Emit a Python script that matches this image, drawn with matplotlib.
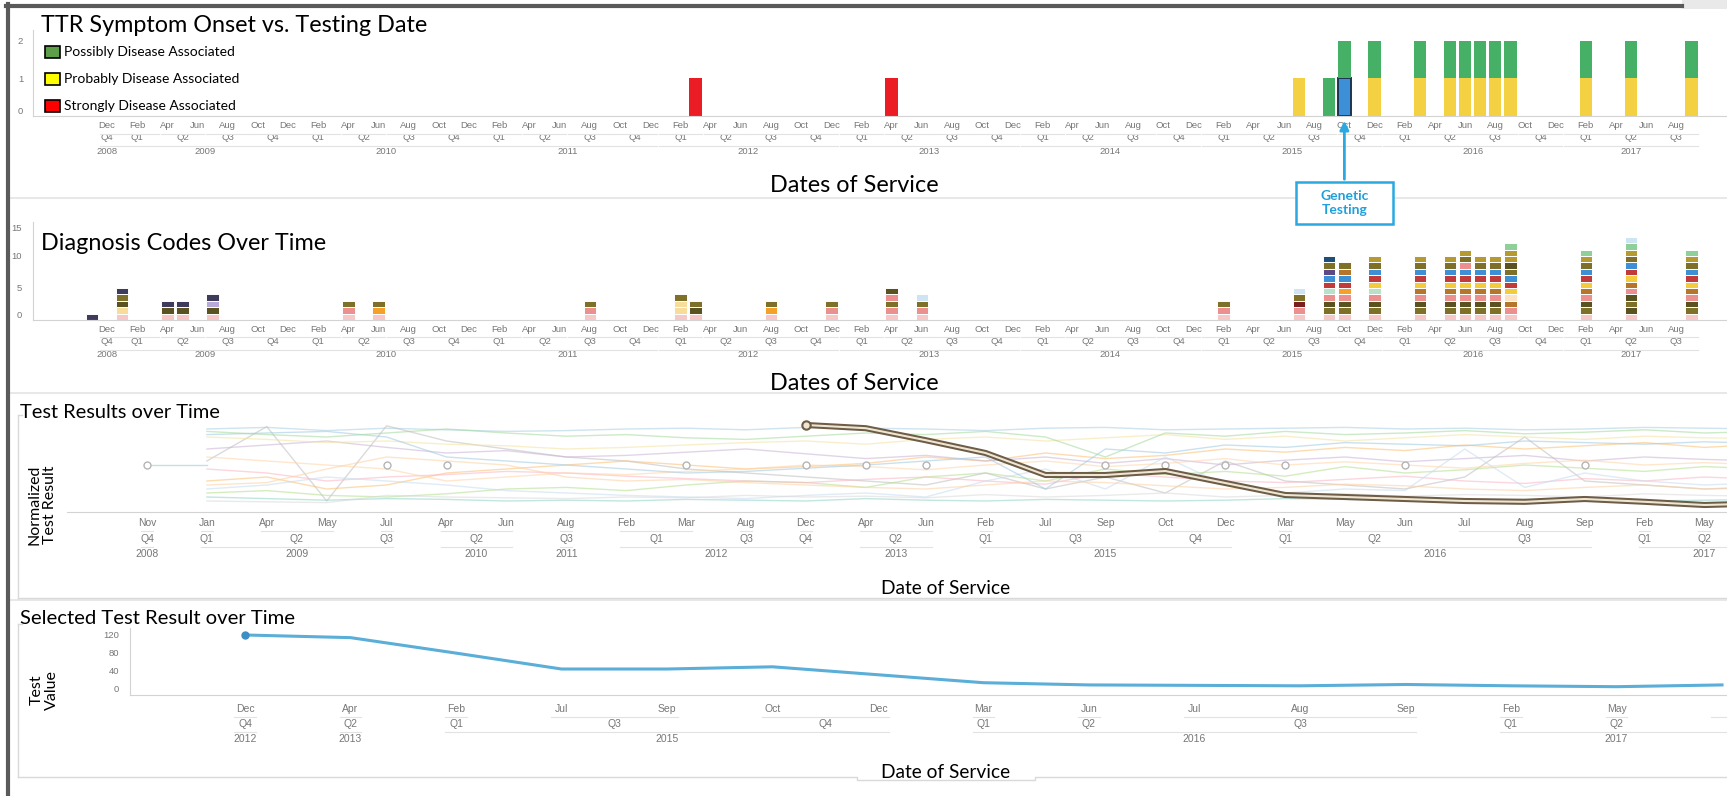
import matplotlib
matplotlib.use("Agg")
import matplotlib.pyplot as plt
import matplotlib.transforms as mtrans
from matplotlib.lines import Line2D
from matplotlib.patches import Rectangle, FancyArrowPatch

plt.rcParams['font.family'] = ['Lato', 'DejaVu Sans']

W, H = 1727, 796
MONTHS = ['Jan', 'Feb', 'Mar', 'Apr', 'May', 'Jun',
          'Jul', 'Aug', 'Sep', 'Oct', 'Nov', 'Dec']

# ---- TTR symptom onset (months counted from Dec 2008 = 0) ----
onset_months = [39, 52, 79, 81, 82, 84, 87, 89, 90, 91, 92, 93, 98, 101, 105]
strongly = [1, 1, 0, 0, 0, 0, 0, 0, 0, 0, 0, 0, 0, 0, 0]
probably = [0, 0, 1, 0, 1, 1, 1, 1, 1, 1, 1, 1, 1, 1, 1]
possibly = [0, 0, 0, 1, 1, 1, 1, 1, 1, 1, 1, 1, 1, 1, 1]
genetic_test_month = 82
header_months = list(range(0, 106))   # Dec 2008 .. Sep 2017

# ---- diagnosis codes (one unit per code, stacked bottom -> top) ----
code_colors = ['#f6c8c8', '#ec8f8f', '#5a5220', '#7e7028', '#3e3b5c',
               '#b9a9d6', '#f8dc9c', '#f4a02a', '#b59a32', '#b5762c',
               '#f2cc3d', '#c23b3b', '#3d8fd6', '#b9e0c8', '#8fcf98',
               '#7a1e1e', '#1f4e79', '#5b4a86', '#cfe4f2', '#fbe3c4']
dx_months = [-1, 1, 4, 5, 7, 16, 18, 32, 38, 39, 44, 48, 52, 54, 74, 79,
             81, 82, 84, 87, 89, 90, 91, 92, 93, 98, 101, 105]
dx_stacks = [
    [4],
    [0, 6, 2, 3, 4],
    [0, 2, 4],
    [0, 2, 4],
    [0, 2, 5, 4],
    [0, 1, 3],
    [0, 7, 3],
    [0, 1, 3],
    [0, 6, 6, 3],
    [0, 2, 3],
    [0, 7, 3],
    [0, 1, 3],
    [0, 1, 3, 1, 2],
    [0, 1, 3, 18],
    [0, 1, 3],
    [0, 1, 15, 3, 18],
    [0, 3, 2, 1, 13, 11, 12, 17, 3, 16],
    [0, 3, 2, 1, 7, 11, 12, 9, 3],
    [0, 3, 2, 1, 13, 10, 11, 12, 3, 8],
    [0, 3, 2, 1, 9, 10, 11, 12, 3, 8],
    [0, 3, 2, 1, 9, 10, 11, 12, 3, 8],
    [0, 3, 2, 1, 9, 10, 11, 12, 1, 3, 8],
    [0, 3, 2, 1, 9, 10, 11, 12, 3, 8],
    [0, 3, 2, 1, 9, 10, 11, 12, 3, 8],
    [0, 1, 9, 19, 10, 11, 12, 3, 2, 8, 8, 14],
    [0, 3, 2, 1, 9, 10, 11, 12, 3, 8, 14],
    [0, 2, 3, 2, 1, 9, 10, 11, 12, 3, 8, 14, 18],
    [0, 3, 2, 1, 9, 10, 11, 12, 3, 8, 14],
]

# ---- test results over time (discrete dates) ----
trend_months = ['Nov', 'Jan', 'Apr', 'May', 'Jul', 'Apr', 'Jun', 'Aug', 'Feb', 'Mar',
                'Aug', 'Dec', 'Apr', 'Jun', 'Feb', 'Jul', 'Sep', 'Oct', 'Dec', 'Mar',
                'May', 'Jun', 'Jul', 'Aug', 'Sep', 'Feb', 'May', 'Aug']
trend_quarters = ['Q4', 'Q1', 'Q2', 'Q2', 'Q3', 'Q2', 'Q2', 'Q3', 'Q1', 'Q1',
                  'Q3', 'Q4', 'Q2', 'Q2', 'Q1', 'Q3', 'Q3', 'Q4', 'Q4', 'Q1',
                  'Q2', 'Q2', 'Q3', 'Q3', 'Q3', 'Q1', 'Q2', 'Q3']
trend_years = [2008, 2009, 2009, 2009, 2009, 2010, 2010, 2011, 2012, 2012,
               2012, 2012, 2013, 2013, 2015, 2015, 2015, 2015, 2015, 2016,
               2016, 2016, 2016, 2016, 2016, 2017, 2017, 2017]
# faint background tests, values from Jan 2009 onwards (27 points)
faint_colors = ['#a6cee3', '#bdbdbd', '#fdbf6f', '#b2df8a', '#fbb4c4', '#8dd3c7',
                '#cab2d6', '#f3e3a0', '#c6dbef', '#ffd3a5', '#9ecae1', '#d9d9d9',
                '#fdd0a2', '#a1d99b']
faint_series = [
    [0.95, 0.97, 0.93, 0.96, 0.94, 0.92, 0.93, 0.95, 0.96, 0.94, 0.97, 0.96, 0.95, 0.93,
     0.96, 0.97, 0.94, 0.95, 0.96, 0.97, 0.95, 0.96, 0.94, 0.95, 0.97, 0.96, 0.95],
    [0.55, 0.98, 0.05, 0.99, 0.80, 0.70, 0.60, 0.55, 0.45, 0.40, 0.35, 0.30, 0.25, 0.40,
     0.20, 0.35, 0.15, 0.55, 0.30, 0.25, 0.20, 0.35, 0.85, 0.30, 0.25, 0.20, 0.22],
    [0.30, 0.35, 0.20, 0.25, 0.40, 0.45, 0.50, 0.55, 0.50, 0.45, 0.48, 0.52, 0.60, 0.55,
     0.65, 0.58, 0.62, 0.70, 0.66, 0.72, 0.68, 0.75, 0.70, 0.74, 0.78, 0.72, 0.76],
    [0.15, 0.18, 0.12, 0.10, 0.14, 0.20, 0.22, 0.18, 0.25, 0.30, 0.28, 0.22, 0.35, 0.40,
     0.30, 0.45, 0.38, 0.42, 0.36, 0.48, 0.40, 0.44, 0.50, 0.46, 0.42, 0.48, 0.45],
    [0.45, 0.40, 0.30, 0.35, 0.38, 0.42, 0.40, 0.36, 0.33, 0.30, 0.28, 0.32, 0.35, 0.30,
     0.26, 0.40, 0.35, 0.30, 0.28, 0.32, 0.36, 0.30, 0.27, 0.33, 0.30, 0.35, 0.32],
    [0.10, 0.08, 0.06, 0.08, 0.07, 0.05, 0.06, 0.05, 0.07, 0.06, 0.05, 0.08, 0.06, 0.05,
     0.07, 0.06, 0.05, 0.06, 0.08, 0.07, 0.06, 0.05, 0.07, 0.06, 0.05, 0.06, 0.07],
    [0.70, 0.75, 0.80, 0.72, 0.65, 0.68, 0.60, 0.62, 0.66, 0.70, 0.64, 0.58, 0.62, 0.55,
     0.60, 0.52, 0.58, 0.50, 0.56, 0.60, 0.54, 0.58, 0.62, 0.55, 0.60, 0.57, 0.55],
    [0.85, 0.82, 0.78, 0.80, 0.76, 0.74, 0.70, 0.72, 0.75, 0.78, 0.80, 0.76, 0.82, 0.85,
     0.80, 0.84, 0.88, 0.82, 0.86, 0.80, 0.84, 0.88, 0.85, 0.82, 0.86, 0.84, 0.83],
    [0.20, 0.25, 0.35, 0.30, 0.25, 0.18, 0.15, 0.12, 0.10, 0.08, 0.12, 0.15, 0.10, 0.30,
     0.45, 0.20, 0.60, 0.25, 0.15, 0.20, 0.18, 0.70, 0.22, 0.40, 0.30, 0.25, 0.28],
    [0.60, 0.55, 0.50, 0.45, 0.30, 0.35, 0.40, 0.38, 0.42, 0.45, 0.50, 0.48, 0.44, 0.50,
     0.55, 0.48, 0.52, 0.58, 0.50, 0.54, 0.50, 0.46, 0.52, 0.56, 0.50, 0.53, 0.50],
    [0.88, 0.90, 0.92, 0.85, 0.60, 0.55, 0.50, 0.45, 0.40, 0.42, 0.46, 0.50, 0.55, 0.60,
     0.20, 0.70, 0.65, 0.75, 0.72, 0.78, 0.76, 0.74, 0.80, 0.78, 0.76, 0.79, 0.77],
    [0.05, 0.04, 0.03, 0.12, 0.10, 0.09, 0.08, 0.10, 0.09, 0.12, 0.10, 0.11, 0.09, 0.13,
     0.10, 0.12, 0.15, 0.10, 0.12, 0.14, 0.11, 0.13, 0.12, 0.10, 0.14, 0.12, 0.11],
    [0.25, 0.28, 0.45, 0.60, 0.55, 0.50, 0.35, 0.30, 0.32, 0.28, 0.25, 0.22, 0.20, 0.25,
     0.30, 0.28, 0.24, 0.20, 0.22, 0.26, 0.24, 0.20, 0.18, 0.22, 0.25, 0.20, 0.23],
    [0.92, 0.88, 0.85, 0.90, 0.95, 0.90, 0.86, 0.88, 0.84, 0.82, 0.86, 0.90, 0.88, 0.92,
     0.85, 0.60, 0.90, 0.86, 0.92, 0.88, 0.90, 0.93, 0.89, 0.91, 0.94, 0.90, 0.92],
]
baseline_test = [0.50, 0.50]            # Nov 2008 -> Jan 2009 faint connector
single_idx = [0, 4, 5, 9, 11, 12, 13, 16, 17, 18, 19, 21, 24]
single_vals = [0.50, 0.50, 0.50, 0.50, 0.50, 0.50, 0.50, 0.50, 0.50, 0.50, 0.50, 0.50, 0.50]
highlight_start = 11
highlight_vals = [1.00, 0.96, 0.81, 0.65, 0.375, 0.375, 0.425, 0.275, 0.125, 0.10,
                  0.075, 0.05, 0.04, 0.075, 0.04, 0.0, 0.02]

# ---- selected test result ----
sel_months = ['Dec', 'Apr', 'Feb', 'Jul', 'Sep', 'Oct', 'Dec', 'Mar', 'Jun', 'Jul',
              'Aug', 'Sep', 'Feb', 'May', 'Aug']
sel_quarters = ['Q4', 'Q2', 'Q1', 'Q3', 'Q3', 'Q4', 'Q4', 'Q1', 'Q2', 'Q3',
                'Q3', 'Q3', 'Q1', 'Q2', 'Q3']
sel_years = [2012, 2013, 2015, 2015, 2015, 2015, 2015, 2016, 2016, 2016,
             2016, 2016, 2017, 2017, 2017]
sel_values = [120, 114, 79, 43, 43, 48, 30, 12, 7, 6, 5, 8, 5, 3, 7]


fig = plt.figure(figsize=(W / 100, H / 100), dpi=100)
TICKFONT = ['Liberation Sans', 'DejaVu Sans']
GRAY = '#777777'


def fx(x):
    return x / W


def fy(y):
    return 1 - y / H


def add_ax(x0, y0, x1, y1):
    ax = fig.add_axes([fx(x0), fy(y1), (x1 - x0) / W, (y1 - y0) / H])
    ax.patch.set_alpha(0)
    for s in ['top', 'right']:
        ax.spines[s].set_visible(False)
    for s in ['left', 'bottom']:
        ax.spines[s].set_color('#d3d3d3')
    ax.set_xticks([])
    ax.tick_params(axis='y', length=0, labelsize=6.8, labelcolor=GRAY)
    for lab in ax.get_yticklabels():
        lab.set_family(TICKFONT)
    return ax


def fline(xs, ys, color='#e2e2e2', lw=1.0, transform=None):
    fig.add_artist(Line2D(xs, ys, color=color, lw=lw,
                          transform=transform or fig.transFigure))


def runs(keys):
    out, start = [], 0
    for i in range(1, len(keys) + 1):
        if i == len(keys) or keys[i] != keys[start]:
            out.append((start, i - 1))
            start = i
    return out


def header(ax, xs, months, quarters, years, rows, size, half):
    tr = mtrans.blended_transform_factory(ax.transData, fig.transFigure)
    ym, yq, yy = rows
    # only label positions that fall inside the picture
    lo, hi = ax.get_xlim()
    pos = ax.get_position()
    xmax = lo + (hi - lo) * (W - 16 - pos.x0 * W) / (pos.width * W)
    kw = dict(transform=tr, ha='center', va='center', fontsize=size,
              color=GRAY, family=TICKFONT)
    for x, lab in zip(xs, months):
        if lab and x <= xmax:
            ax.text(x, fy(ym), lab, **kw)
    for a, b in runs(list(zip(years, quarters))):
        c = (xs[a] + xs[b]) / 2
        if c <= xmax:
            ax.text(c, fy(yq), quarters[a], **kw)
        fline([xs[a] - half, xs[b] + half], [fy(ym + 8)] * 2, transform=tr, lw=0.8)
    for a, b in runs(years):
        c = (xs[a] + xs[b]) / 2
        if c <= xmax:
            ax.text(c, fy(yy), str(years[a]), **kw)
        fline([xs[a] - half, xs[b] + half], [fy(yq + 8)] * 2, transform=tr, lw=0.8)


# monthly header labels
m_lab = [MONTHS[(11 + m) % 12] if m % 2 == 0 else '' for m in header_months]
m_q = ['Q%d' % ((11 + m) % 12 // 3 + 1) for m in header_months]
m_y = [2008 + (11 + m) // 12 for m in header_months]
MX0, MSTEP = 107, 15.09
mxlim = ((33 - MX0) / MSTEP, (W - MX0) / MSTEP)

# ---------- panel 1 ----------
ax1 = add_ax(33, 30, W, 116)
ax1.set_xlim(*mxlim)
ax1.set_ylim(0, 2.29)
ax1.set_yticks([0, 1, 2])
ax1.tick_params(axis='y', pad=7)
ax1.get_yticklabels()[0].set_va('bottom')
bw = 0.82
bottom = [0] * len(onset_months)
ax1.bar(onset_months, strongly, bw, bottom=bottom, color='#ec1c24')
bottom = [b + s for b, s in zip(bottom, strongly)]
prob_colors = ['#3d8fd8' if m == genetic_test_month else '#f4d142' for m in onset_months]
prob_edges = ['#1d3550' if m == genetic_test_month else 'none' for m in onset_months]
ax1.bar(onset_months, probably, bw, bottom=bottom, color=prob_colors,
        edgecolor=prob_edges, linewidth=1.4)
bottom = [b + p for b, p in zip(bottom, probably)]
ax1.bar(onset_months, possibly, bw, bottom=bottom, color='#45b066')
header(ax1, header_months, m_lab, m_q, m_y, (125.6, 137.7, 151), 6.8, 0.45)

fig.text(fx(41), fy(26), 'TTR Symptom Onset vs. Testing Date', fontsize=16.8,
         va='center', ha='left')
legend_items = [('#5d9e48', 'Possibly Disease Associated', 52),
                ('#ffff00', 'Probably Disease Associated', 79),
                ('#ff0000', 'Strongly Disease Associated', 106)]
for col, lab, y in legend_items:
    fig.add_artist(Rectangle((fx(45), fy(y + 6)), 15 / W, 12 / H, facecolor=col,
                             edgecolor='black', lw=1.2, transform=fig.transFigure))
    fig.text(fx(64), fy(y), lab, fontsize=10, va='center', ha='left')
fig.text(fx(854), fy(185), 'Dates of Service', fontsize=16.8, ha='center', va='center')

# genetic testing call-out
tr1 = mtrans.blended_transform_factory(ax1.transData, fig.transFigure)
fig.add_artist(FancyArrowPatch((genetic_test_month, fy(182)), (genetic_test_month, fy(118)),
                               arrowstyle='-|>', mutation_scale=13, color='#29a9e0',
                               lw=2, transform=tr1, zorder=10))
fig.add_artist(Rectangle((genetic_test_month - 3.2, fy(224)), 6.4, 42 / H,
                         facecolor='white', edgecolor='#29a9e0', lw=1.8,
                         transform=tr1, zorder=10))
fig.text(genetic_test_month, fy(203), 'Genetic\nTesting', transform=tr1, ha='center',
         va='center', fontsize=10, fontweight='bold', color='#1f9fdc', zorder=11,
         linespacing=1.2)

# ---------- panel 2 ----------
ax2 = add_ax(33, 222, W, 320)
ax2.set_xlim(*mxlim)
ax2.set_ylim(0, 15.31)
ax2.set_yticks([0, 5, 10, 15])
ax2.tick_params(axis='y', pad=8)
ax2.get_yticklabels()[0].set_va('bottom')
ax2.get_yticklabels()[-1].set_va('top')
for m, stack in zip(dx_months, dx_stacks):
    for k, code in enumerate(stack):
        ax2.bar(m, 1, 0.82, bottom=k, color=code_colors[code], edgecolor='white',
                linewidth=0.7)
header(ax2, header_months, m_lab, m_q, m_y, (329, 341.5, 354.6), 6.8, 0.45)
fig.text(fx(41), fy(243), 'Diagnosis Codes Over Time', fontsize=16.8, va='center', ha='left')
fig.text(fx(854), fy(383), 'Dates of Service', fontsize=16.8, ha='center', va='center')

# ---------- panel 3 ----------
TX0, TSTEP = 147, 59.9
ax3 = add_ax(67, 420, W, 512)
ax3.spines['left'].set_visible(False)
ax3.set_yticks([])
ax3.set_xlim((67 - TX0) / TSTEP, (W - TX0) / TSTEP)
ax3.set_ylim(-0.0875, 1.0625)
ax3.plot([0, 1], baseline_test, color='#bfe3df', lw=1.0, zorder=1)
for vals, col in zip(faint_series, faint_colors):
    ax3.plot(range(1, 1 + len(vals)), vals, color=col, lw=1.0, alpha=0.55, zorder=1)
ax3.plot(single_idx, single_vals, 'o', mfc='white', mec='#b5b5b5', ms=5, mew=1, zorder=3)
hx = list(range(highlight_start, highlight_start + len(highlight_vals)))
ax3.plot(hx, highlight_vals, color='#6d5c46', lw=4.4, solid_joinstyle='round', zorder=5)
ax3.plot(hx, highlight_vals, color='#efe5d3', lw=1.5, solid_joinstyle='round', zorder=6)
ax3.plot(hx[0], highlight_vals[0], 'o', mfc='#efe5d3', mec='#6d5c46', ms=6, mew=1.5, zorder=7)
header(ax3, list(range(len(trend_months))), trend_months, trend_quarters, trend_years,
       (522.7, 539, 554), 7.5, 0.1)
fig.text(fx(20), fy(412), 'Test Results over Time', fontsize=14.4, va='center', ha='left')
fig.text(fx(42), fy(505), 'Normalized\nTest Result', fontsize=11.5, rotation=90,
         ha='center', va='center', linespacing=1.1)
fig.text(fx(946), fy(588), 'Date of Service', fontsize=13.8, ha='center', va='center')

# ---------- panel 4 ----------
SX0, SSTEP = 245, 105.5
ax4 = add_ax(130, 628, W, 695)
ax4.set_xlim((130 - SX0) / SSTEP, (W - SX0) / SSTEP)
ax4.set_ylim(-15.8, 135.8)
ax4.set_yticks([0, 40, 80, 120])
ax4.tick_params(axis='y', pad=8)
ax4.plot(range(len(sel_values)), sel_values, color='#5aaed8', lw=2.2)
ax4.plot(0, sel_values[0], 'o', color='#3b8fc4', ms=5)
header(ax4, list(range(len(sel_months))), sel_months, sel_quarters, sel_years,
       (709, 724, 739), 7.5, 0.1)
fig.text(fx(20), fy(618), 'Selected Test Result over Time', fontsize=14.6, va='center',
         ha='left')
fig.text(fx(44), fy(690), 'Test\nValue', fontsize=11.5, rotation=90, ha='center',
         va='center', linespacing=1.1)
fig.text(fx(946), fy(772), 'Date of Service', fontsize=13.8, ha='center', va='center')

# ---------- dashboard frame ----------
for y in (198, 393, 600):
    fline([fx(10), 1], [fy(y)] * 2, color='#e6e6e6', lw=1.3)
fline([fx(18)] * 2, [fy(415), fy(598)], color='#d9d9d9')
fline([fx(18), 1], [fy(598)] * 2, color='#d9d9d9')
fline([fx(18), fx(22)], [fy(415)] * 2, color='#d9d9d9')
fline([fx(18)] * 2, [fy(624), fy(777)], color='#d9d9d9')
fline([fx(18), fx(22)], [fy(624)] * 2, color='#d9d9d9')
fline([fx(18), fx(857), fx(857), fx(1035), fx(1035), 1],
      [fy(777), fy(777), fy(780), fy(780), fy(777), fy(777)], color='#d9d9d9')
fline([fx(7.5)] * 2, [fy(4), 0], color='#5a5a5a', lw=3)
fline([fx(6), fx(1682)], [fy(5.5)] * 2, color='#5a5a5a', lw=3)
fig.add_artist(Rectangle((fx(1682), fy(9)), (W - 1682) / W, 9 / H, facecolor='#e9e9e9',
                         edgecolor='none', transform=fig.transFigure))

fig.savefig('out.png', dpi=100)
